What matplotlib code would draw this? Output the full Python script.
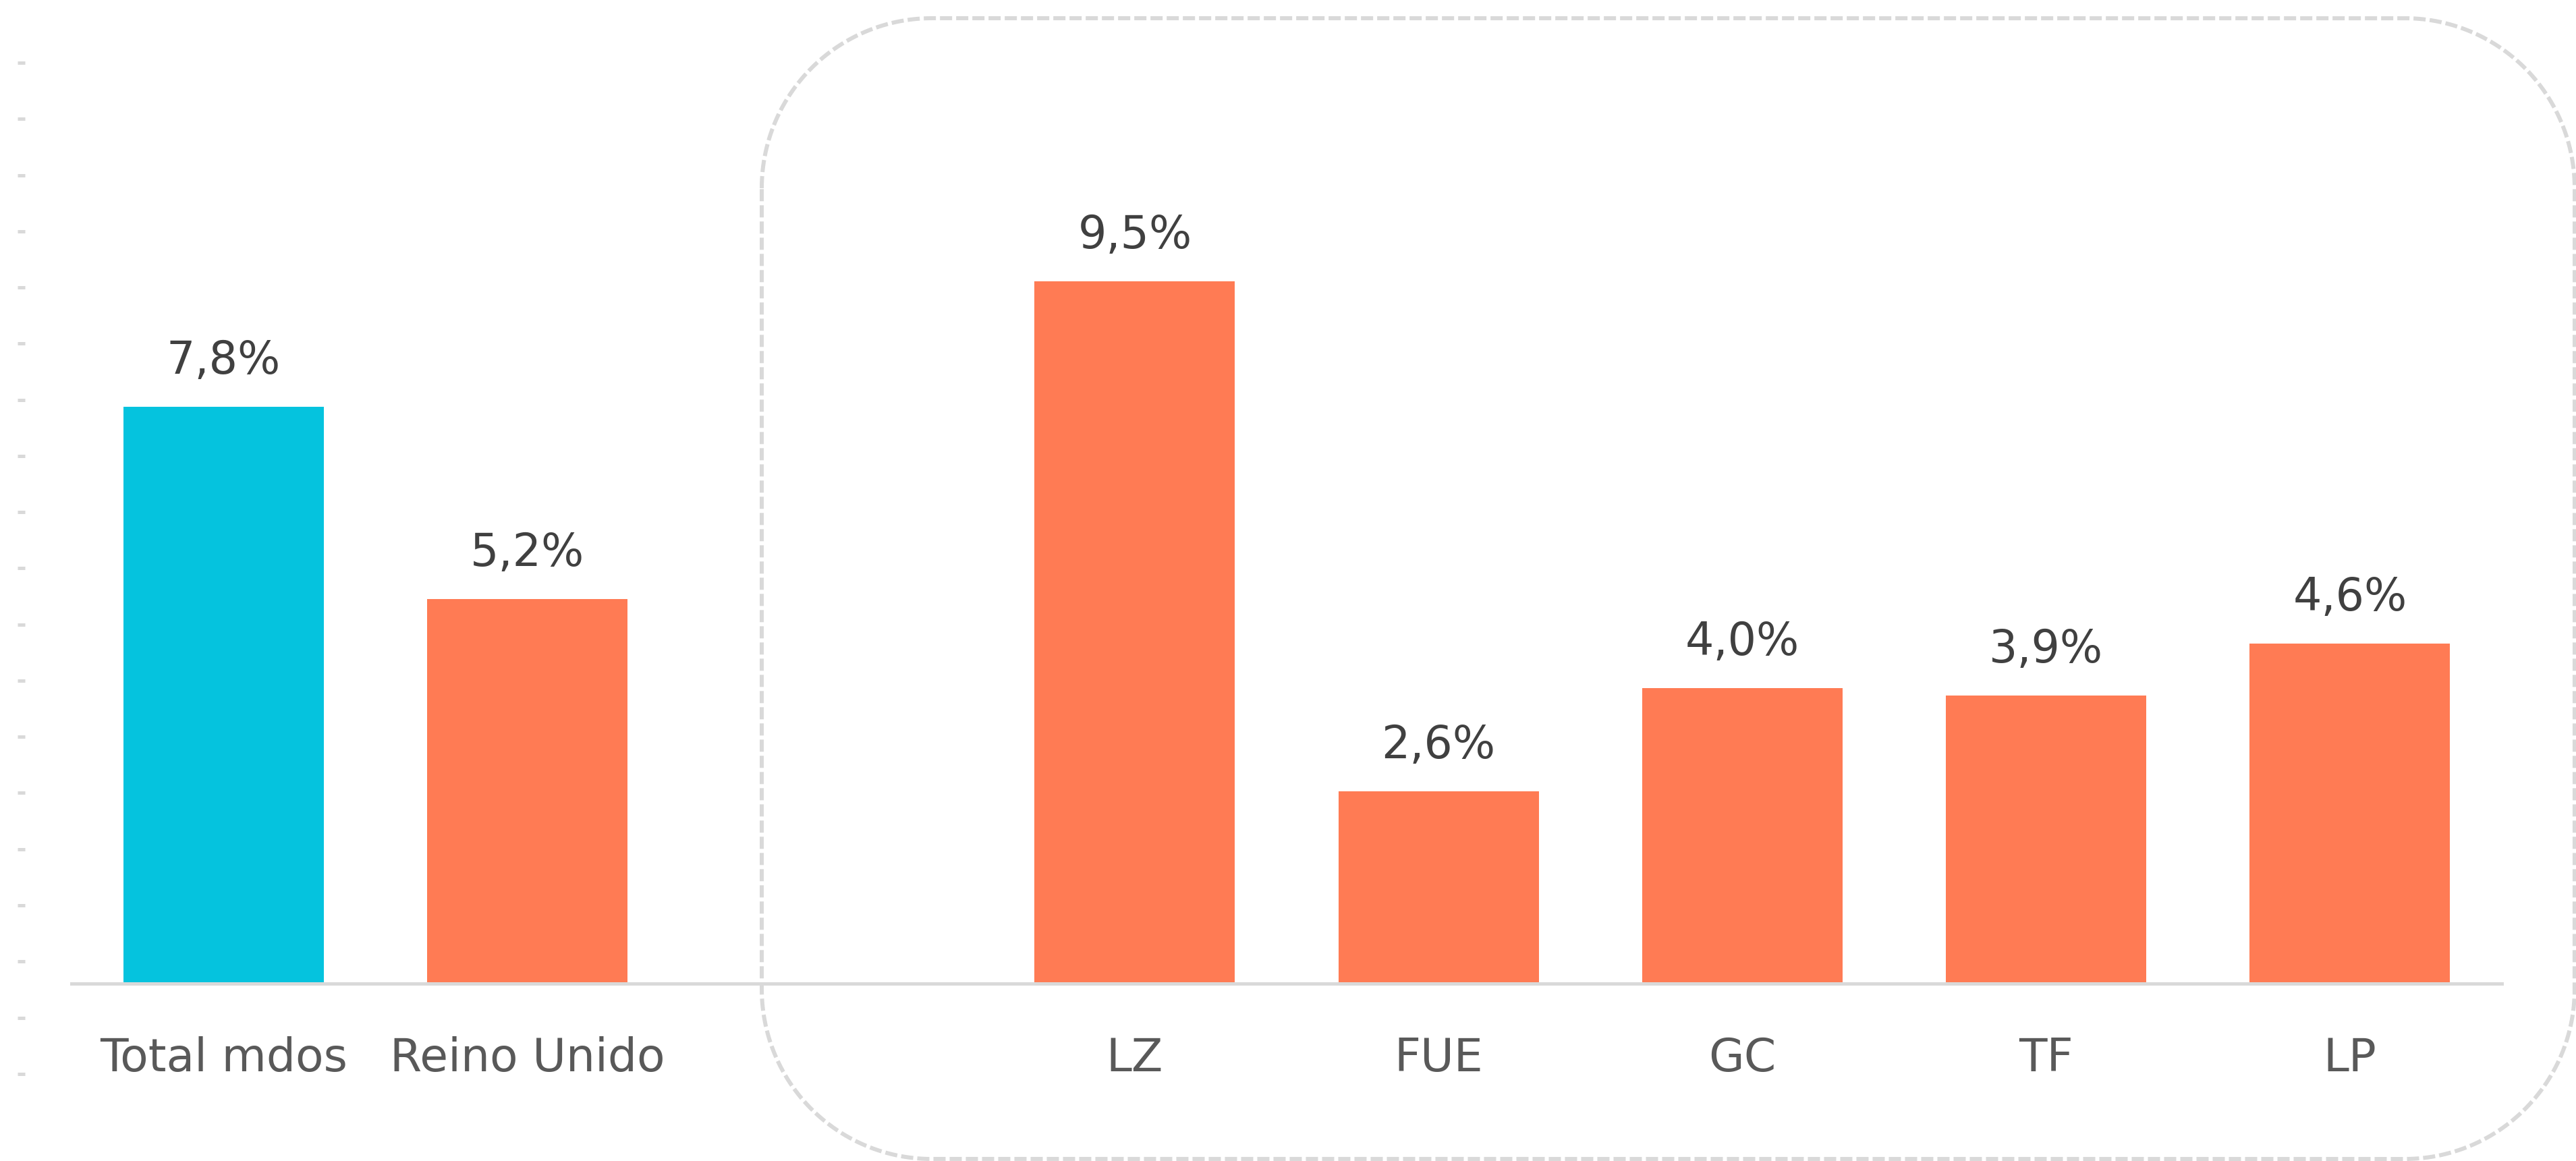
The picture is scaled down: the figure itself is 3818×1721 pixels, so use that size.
import matplotlib
matplotlib.use("Agg")
import matplotlib.pyplot as plt
import numpy as np
from matplotlib.lines import Line2D
from matplotlib.transforms import IdentityTransform, Affine2D

# ---- data ----
categories = ["Total mdos", "Reino Unido", "LZ", "FUE", "GC", "TF", "LP"]
values = [7.8, 5.2, 9.5, 2.6, 4.0, 3.9, 4.6]
value_labels = ["7,8%", "5,2%", "9,5%", "2,6%", "4,0%", "3,9%", "4,6%"]
bar_colors = ["#05C3DE", "#FF7B54", "#FF7B54", "#FF7B54", "#FF7B54", "#FF7B54", "#FF7B54"]

# layout: an empty slot between the first group and the islands
gap_after = 2
positions = np.array([i if i < gap_after else i + 1 for i in range(len(categories))])

W, H, DPI = 3818, 1721, 100
fig = plt.figure(figsize=(W / DPI, H / DPI), dpi=DPI)
fig.patch.set_facecolor("white")
plt.rcParams["font.family"] = ["DejaVu Sans"]

# main axes (pixel geometry measured from reference)
x_left, x_right = 106, 3708
base_y = 1458           # baseline, px from top
px_per_unit = 109.6
ax = fig.add_axes([x_left / W, (H - base_y) / H, (x_right - x_left) / W, base_y / H])
ax.set_xlim(-0.5, positions.max() + 0.5)
ax.set_ylim(0, base_y / px_per_unit)
ax.patch.set_alpha(0)

ax.bar(positions, values, width=0.66, color=bar_colors, zorder=2)

for x, v, lab in zip(positions, values, value_labels):
    ax.annotate(lab, (x, v), xytext=(0, 49 * 72 / DPI), textcoords="offset points",
                ha="center", va="baseline", fontsize=48, color="#404040")

for s in ["top", "right", "left"]:
    ax.spines[s].set_visible(False)
ax.spines["bottom"].set_color("#D9D9D9")
ax.spines["bottom"].set_linewidth(5 * 72 / DPI)
ax.spines["bottom"].set_zorder(3)
ax.set_yticks([])
ax.set_xticks(positions)
ax.set_xticklabels(categories, fontsize=49, color="#595959")
ax.tick_params(axis="x", length=0, pad=(1588 - base_y) * 72 / DPI)
for t in ax.get_xticklabels():
    t.set_va("baseline")

# left residual tick axis (short gray tick marks)
n_ticks = 19
t_top, t_bot = 93.1, 1591.8
step = (t_bot - t_top) / (n_ticks - 1)
ax2 = fig.add_axes([37 / W, (H - t_bot - step / 2) / H, 1 / W, (t_bot - t_top + step) / H])
ax2.set_ylim(-0.5, n_ticks - 0.5)
ax2.set_yticks(np.arange(n_ticks))
ax2.set_yticklabels([])
ax2.set_xticks([])
for s in ax2.spines.values():
    s.set_visible(False)
ax2.patch.set_alpha(0)
ax2.tick_params(axis="y", direction="out", length=11 * 72 / DPI, width=5 * 72 / DPI,
                color="#D9D9D9")

# dashed rounded box around island bars, built as a polyline in pixel coords
bx0, by_top, bx1, by_bot, r = 1129, 27, 3816, 1718, 252
def arc(cx, cy, a0, a1, n=60):
    t = np.linspace(np.radians(a0), np.radians(a1), n)
    return cx + r * np.cos(t), cy + r * np.sin(t)
# y measured downward from top; convert at the end
segs = [arc(bx0 + r, by_top + r, 180, 270),      # top-left
        arc(bx1 - r, by_top + r, 270, 360),      # top-right
        arc(bx1 - r, by_bot - r, 0, 90),         # bottom-right
        arc(bx0 + r, by_bot - r, 90, 180)]       # bottom-left
bxs = np.concatenate([s[0] for s in segs] + [segs[0][0][:1]])
bys = np.concatenate([s[1] for s in segs] + [segs[0][1][:1]])
box = Line2D(bxs, H - bys, transform=IdentityTransform(), color="#D9D9D9",
             linewidth=6 * 72 / DPI, linestyle=(0, (3, 1)), zorder=0,
             solid_capstyle="butt", dash_capstyle="butt")
fig.add_artist(box)

fig.savefig("out.png", dpi=DPI)
